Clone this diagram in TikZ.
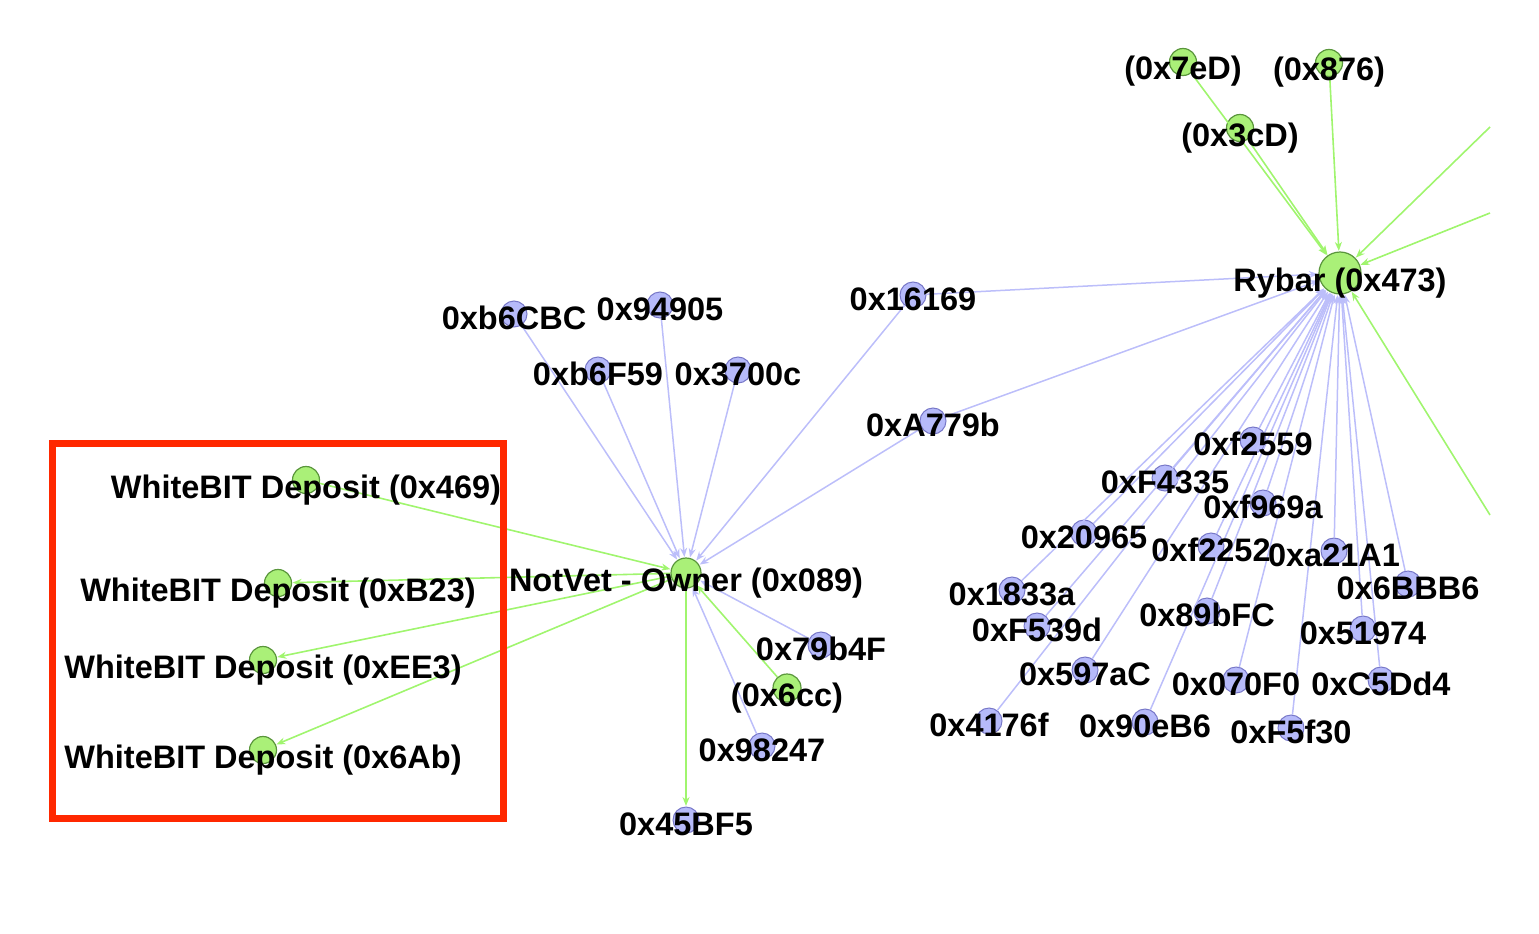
\documentclass[tikz,border=0pt]{standalone}
\usepackage{fontspec}
\setmainfont{Liberation Sans}
\usetikzlibrary{arrows.meta}
\definecolor{gfill}{RGB}{170,240,120}
\definecolor{gstroke}{RGB}{90,150,60}
\definecolor{bfill}{RGB}{182,186,250}
\definecolor{bstroke}{RGB}{120,120,200}
\definecolor{gedgec}{RGB}{160,245,110}
\definecolor{bedgec}{RGB}{188,190,250}
\definecolor{boxred}{RGB}{255,40,0}
\begin{document}
\begin{tikzpicture}[x=1pt,y=-1pt,
  gnode/.style={circle,draw=gstroke,fill=gfill,line width=1.2pt,minimum size=27pt,inner sep=0pt},
  bnode/.style={circle,draw=bstroke,fill=bfill,line width=1pt,minimum size=26pt,inner sep=0pt},
  lbl/.style={anchor=base,yshift=-15pt,inner sep=0pt,font=\bfseries\fontsize{32.5}{34}\selectfont},
  glbl/.style={lbl,yshift=-3pt},
  tip/.style={-{Stealth[length=9pt,width=7pt]}},
  bedge/.style={draw=bedgec,line width=1.5pt,tip,shorten >=0.5pt},
  gedge/.style={draw=gedgec,line width=1.6pt,tip,shorten >=0.5pt},
  redbox/.style={draw=boxred,line width=6.5pt}]
\useasboundingbox (0,0) rectangle (1539,934);
% green nodes
\node[gnode,minimum size=42pt] (ryb) at (1340,273) {};
\node[gnode] (n7ed) at (1183,62) {};
\node[gnode] (n876) at (1329,63) {};
\node[gnode] (n3cd) at (1240,128) {};
\node[gnode,minimum size=30pt] (nv) at (686,573) {};
\node[gnode] (w469) at (306,480) {};
\node[gnode] (wb23) at (278,583) {};
\node[gnode] (wee3) at (263,660) {};
\node[gnode] (w6ab) at (263,750) {};
\node[gnode,minimum size=28pt] (n6cc) at (787,688) {};
% blue nodes
\node[bnode] (b6cbc) at (514,314) {};
\node[bnode] (b94905) at (660,305) {};
\node[bnode] (b6f59) at (598,370) {};
\node[bnode] (b3700c) at (738,370) {};
\node[bnode] (b16169) at (913,295) {};
\node[bnode] (ba779b) at (933,421) {};
\node[bnode] (b79b4f) at (821,645) {};
\node[bnode] (b98247) at (762,746) {};
\node[bnode] (b45bf5) at (686,820) {};
\node[bnode] (bf2559) at (1253,440) {};
\node[bnode] (bf4335) at (1165,478) {};
\node[bnode] (bf969a) at (1263,503) {};
\node[bnode] (b20965) at (1084,533) {};
\node[bnode] (bf2252) at (1211,546) {};
\node[bnode] (ba21a1) at (1334,551) {};
\node[bnode] (b6bbb6) at (1408,584) {};
\node[bnode] (b1833a) at (1012,590) {};
\node[bnode] (bf539d) at (1037,626) {};
\node[bnode] (b89bfc) at (1207,611) {};
\node[bnode] (b51974) at (1363,629) {};
\node[bnode] (b597ac) at (1085,670) {};
\node[bnode] (b070f0) at (1236,680) {};
\node[bnode] (bc5dd4) at (1381,680) {};
\node[bnode] (b4176f) at (989,721) {};
\node[bnode] (b90eb6) at (1145,722) {};
\node[bnode] (bf5f30) at (1291,728) {};
% off-picture ends
\coordinate (o1) at (1490,127);
\coordinate (o2) at (1490,213);
\coordinate (o3) at (1490,515);
% blue edges to NotVet
\foreach \s in {b6cbc,b94905,b6f59,b3700c,b16169,ba779b,b79b4f,b98247}
  \draw[bedge] (\s) -- (nv);
% blue edges to Rybar
\foreach \s in {b16169,ba779b,bf2559,bf4335,bf969a,b20965,bf2252,ba21a1,b6bbb6,b1833a,bf539d,b89bfc,b51974,b597ac,b070f0,bc5dd4,b4176f,b90eb6,bf5f30}
  \draw[bedge] (\s) -- (ryb);
% green edges
\draw[gedge] (n7ed) -- (ryb);
\draw[gedge] (n3cd) -- (ryb);
\draw[gedge] (n876) -- (ryb);
\draw[gedge] (o1) -- (ryb);
\draw[gedge] (o2) -- (ryb);
\draw[gedge] (o3) -- (ryb);
\draw[gedge] (w469) -- (nv);
\draw[gedge] (n6cc) -- (nv);
\draw[gedge] (nv) -- (wb23);
\draw[gedge] (nv) -- (wee3);
\draw[gedge] (nv) -- (w6ab);
\draw[gedge] (nv) -- (b45bf5);
% red frame
\draw[redbox] (52.5,443.5) rectangle (503.5,818.5);
% labels
\node[glbl] (ryb-t) at (ryb) {Rybar (0x473)};
\node[glbl] (n7ed-t) at (n7ed) {(0x7eD)};
\node[glbl] (n876-t) at (n876) {(0x876)};
\node[glbl] (n3cd-t) at (n3cd) {(0x3cD)};
\node[glbl] (nv-t) at (nv) {NotVet - Owner (0x089)};
\node[glbl] (w469-t) at (w469) {WhiteBIT Deposit (0x469)};
\node[glbl] (wb23-t) at (wb23) {WhiteBIT Deposit (0xB23)};
\node[glbl] (wee3-t) at (wee3) {WhiteBIT Deposit (0xEE3)};
\node[glbl] (w6ab-t) at (w6ab) {WhiteBIT Deposit (0x6Ab)};
\node[glbl] (n6cc-t) at (n6cc) {(0x6cc)};
\node[lbl] (b6cbc-t) at (b6cbc) {0xb6CBC};
\node[lbl] (b94905-t) at (b94905) {0x94905};
\node[lbl] (b6f59-t) at (b6f59) {0xb6F59};
\node[lbl] (b3700c-t) at (b3700c) {0x3700c};
\node[lbl] (b16169-t) at (b16169) {0x16169};
\node[lbl] (ba779b-t) at (ba779b) {0xA779b};
\node[lbl] (b79b4f-t) at (b79b4f) {0x79b4F};
\node[lbl] (b98247-t) at (b98247) {0x98247};
\node[lbl] (b45bf5-t) at (b45bf5) {0x45BF5};
\node[lbl] (bf2559-t) at (bf2559) {0xf2559};
\node[lbl] (bf4335-t) at (bf4335) {0xF4335};
\node[lbl] (bf969a-t) at (bf969a) {0xf969a};
\node[lbl] (b20965-t) at (b20965) {0x20965};
\node[lbl] (bf2252-t) at (bf2252) {0xf2252};
\node[lbl] (ba21a1-t) at (ba21a1) {0xa21A1};
\node[lbl] (b6bbb6-t) at (b6bbb6) {0x6BBB6};
\node[lbl] (b1833a-t) at (b1833a) {0x1833a};
\node[lbl] (bf539d-t) at (bf539d) {0xF539d};
\node[lbl] (b89bfc-t) at (b89bfc) {0x89bFC};
\node[lbl] (b51974-t) at (b51974) {0x51974};
\node[lbl] (b597ac-t) at (b597ac) {0x597aC};
\node[lbl] (b070f0-t) at (b070f0) {0x070F0};
\node[lbl] (bc5dd4-t) at (bc5dd4) {0xC5Dd4};
\node[lbl] (b4176f-t) at (b4176f) {0x4176f};
\node[lbl] (b90eb6-t) at (b90eb6) {0x90eB6};
\node[lbl] (bf5f30-t) at (bf5f30) {0xF5f30};
\end{tikzpicture}
\end{document}
